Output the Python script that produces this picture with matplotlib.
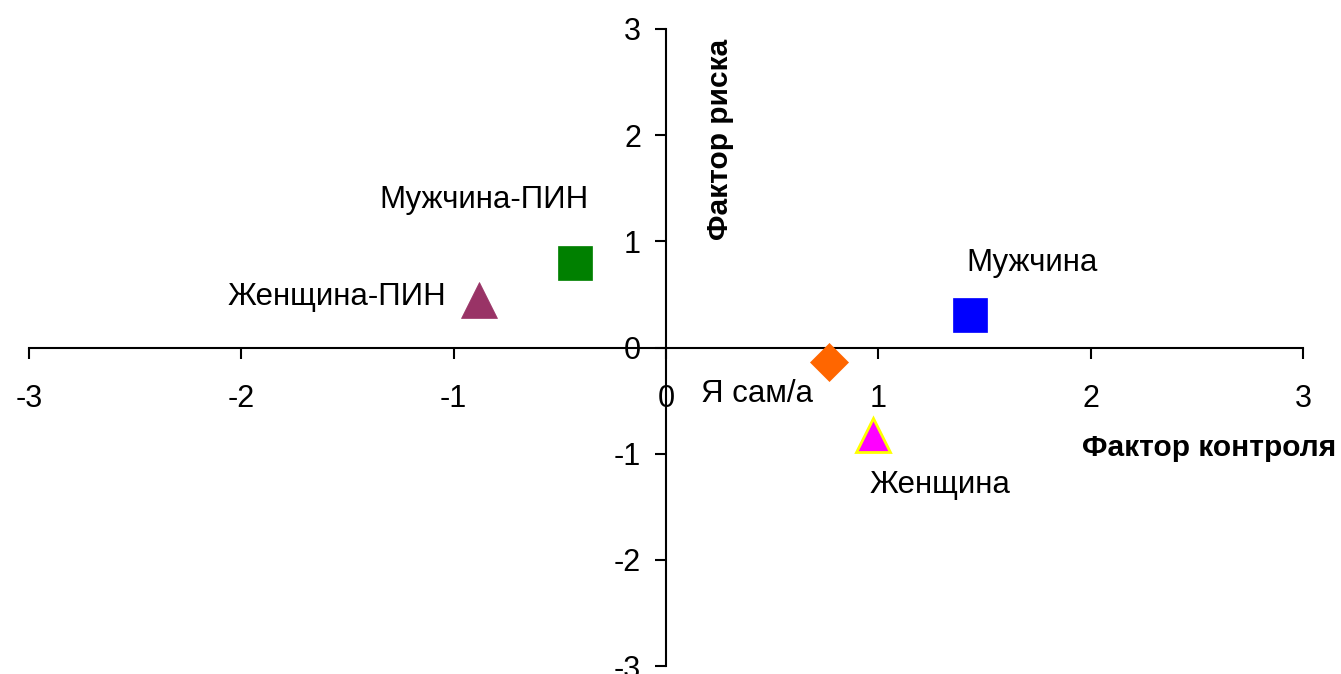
import matplotlib
matplotlib.use("Agg")
import matplotlib.pyplot as plt

plt.rcParams['font.family'] = ['Liberation Sans', 'DejaVu Sans']

labels = ["Мужчина-ПИН", "Женщина-ПИН", "Мужчина", "Я сам/а", "Женщина"]
x_vals = [-0.43, -0.88, 1.43, 0.77, 0.975]
y_vals = [0.80, 0.45, 0.31, -0.14, -0.82]
markers = ["s", "^", "s", "D", "^"]
face_colors = ["#008000", "#993366", "#0000FF", "#FF6600", "#FF00FF"]
edge_colors = ["#008000", "#993366", "#0000FF", "#FF6600", "#FFFF00"]
sizes = [24, 26, 24, 19, 25]
# label offsets (points) and alignment
offsets = [(-65, 45), (-24, 2), (45, 37), (-52, -23), (48, -36)]
aligns = ["center", "right", "center", "center", "center"]

ticks = [-3, -2, -1, 0, 1, 2, 3]

fig = plt.figure(figsize=(13.41, 6.74), dpi=100)
ax = fig.add_axes([29 / 1341, 8 / 674, 1274 / 1341, 637 / 674])

for x, y, m, fc, ec, s in zip(x_vals, y_vals, markers, face_colors, edge_colors, sizes):
    ax.plot(x, y, marker=m, markersize=s, markerfacecolor=fc, markeredgecolor=ec,
            markeredgewidth=2 if ec != fc else 0.5, linestyle="none", clip_on=False, zorder=3)

for x, y, lab, off, ha in zip(x_vals, y_vals, labels, offsets, aligns):
    ax.annotate(lab, (x, y), xytext=off, textcoords="offset points",
                ha=ha, va="center", fontsize=22.5)

ax.set_xlim(-3, 3)
ax.set_ylim(-3, 3)
ax.spines["left"].set_position(("data", 0))
ax.spines["bottom"].set_position(("data", 0))
ax.spines["top"].set_visible(False)
ax.spines["right"].set_visible(False)
for sp in ("left", "bottom"):
    ax.spines[sp].set_linewidth(1.5)

ax.set_xticks(ticks)
ax.set_yticks(ticks)
ax.set_xticklabels([str(t) for t in ticks])
ax.set_yticklabels([str(t) for t in ticks])
ax.tick_params(axis="x", direction="out", length=8, width=1.5, pad=18, labelsize=22)
ax.tick_params(axis="y", direction="out", length=8, width=1.5, pad=10, labelsize=22)

ax.text(2.56, -0.95, "Фактор контроля", fontsize=21.5, fontweight="bold",
        ha="center", va="center", clip_on=False)
ax.text(0.254, 1.96, "Фактор риска", fontsize=21.5, fontweight="bold",
        ha="center", va="center", rotation=90)

fig.savefig("out.png", dpi=100)
